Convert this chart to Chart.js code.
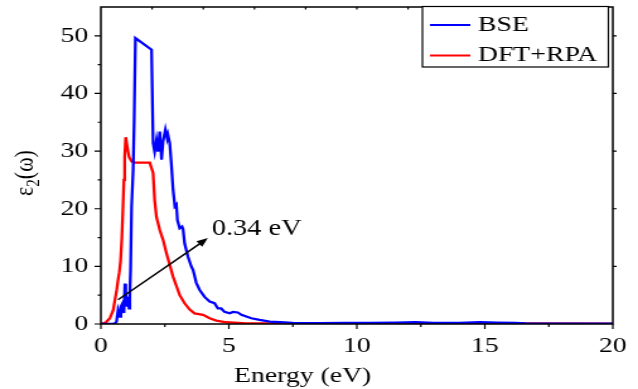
<!DOCTYPE html>
<html>
<head>
<meta charset="utf-8">
<script src="https://cdn.jsdelivr.net/npm/chart.js@4.4.1/dist/chart.umd.min.js"></script>
<style>
  html, body { margin: 0; padding: 0; background: #fff; overflow: hidden; }
  #wrap { width: 506px; height: 389px; transform: scaleX(1.2609); transform-origin: 0 0; }
</style>
</head>
<body>
<div id="wrap"><canvas id="eps" width="506" height="389"></canvas></div>
<script>
// BSE spectrum (energy in eV, eps2)
var bseEnergy = [0, 0.45, 0.55, 0.61, 0.67, 0.74, 0.78, 0.85, 0.9, 0.94, 0.97, 1.03, 1.07, 1.1, 1.13, 1.16, 1.2, 1.26, 1.3, 1.35,
  1.98, 2.04, 2.1, 2.17, 2.23, 2.3, 2.37, 2.43, 2.52, 2.59, 2.62, 2.69, 2.76, 2.82, 2.89, 2.95, 2.99, 3.08, 3.17, 3.21, 3.27,
  3.4, 3.54, 3.6, 3.73, 3.86, 4.05, 4.25, 4.44, 4.57, 4.7, 4.83, 5.03, 5.16, 5.35, 5.49, 5.68, 5.88, 6.2, 6.6, 7.0, 7.5,
  8.5, 9.5, 10.5, 11.5, 12.3, 13, 14, 14.8, 15.5, 16.2, 16.6, 17.5, 20];
var bseEps2 = [0, 0, 0.1, 0.4, 2.4, 1.3, 3.0, 3.6, 1.9, 7.0, 5.3, 3.0, 4.7, 2.7, 5.3, 9.4, 20.4, 26.7, 35, 49.6,
  47.6, 31.4, 29.9, 31.9, 29.9, 33.4, 28.5, 31.7, 33.7, 32.2, 32.8, 31.4, 27.3, 23.3, 20.4, 20.7, 18, 16.6, 16.9, 16.5, 14,
  11.7, 9.9, 9.4, 7.1, 5.9, 4.7, 3.9, 3.6, 2.7, 2.7, 2.1, 1.85, 2.1, 2.0, 1.6, 1.3, 1.0, 0.7, 0.4, 0.3, 0.2,
  0.15, 0.2, 0.2, 0.25, 0.3, 0.2, 0.2, 0.3, 0.25, 0.2, 0.1, 0.05, 0.05];

// DFT+RPA spectrum
var rpaEnergy = [0, 0.09, 0.2, 0.35, 0.48, 0.55, 0.62, 0.67, 0.72, 0.77, 0.82, 0.86, 0.9, 0.93, 0.97, 1.02, 1.1, 1.2, 1.3, 1.91, 2.04, 2.1,
  2.17, 2.3, 2.43, 2.56, 2.82, 3.08, 3.27, 3.47, 3.66, 3.99, 4.25, 4.51, 4.9, 5.68, 8, 12, 16, 20];
var rpaEps2 = [0, 0.1, 0.3, 1.0, 2.4, 4.2, 6.0, 7.6, 9.0, 11, 15, 20, 25, 29, 32.4, 31, 29, 28.2, 28, 28, 26.2, 21.5,
  18.6, 16.3, 14.6, 12.3, 8.2, 5.0, 3.6, 2.5, 1.85, 1.6, 1.0, 0.6, 0.3, 0.1, 0.1, 0.15, 0.1, 0.05];

var seriesNames = ['BSE', 'DFT+RPA'];
var seriesColors = ['#0000ff', '#ff0000'];
var xTitle = 'Energy (eV)';

// annotation: gap arrow
var gapLabel = '0.34 eV';
var arrowFrom = [0.67, 4.2];
var arrowTo = [4.18, 14.9];
var gapTextAt = [4.33, 15.5];

var FONT = '"Liberation Serif", "Times New Roman", serif';

function toPoints(xs, ys) {
  return xs.map(function(x, i) { return { x: x, y: ys[i] }; });
}

var decorPlugin = {
  id: 'decor',
  afterDraw: function(chart) {
    var ctx = chart.ctx;
    var a = chart.chartArea;
    var xs = chart.scales.x, ys = chart.scales.y;
    ctx.save();
    ctx.strokeStyle = '#000';
    ctx.fillStyle = '#000';

    // frame
    ctx.lineWidth = 1.5;
    ctx.strokeRect(a.left, a.top, a.right - a.left, a.bottom - a.top);

    // tick marks (major long, minor short)
    ctx.lineWidth = 1.2;
    ctx.beginPath();
    xs.ticks.forEach(function(t) {
      var px = xs.getPixelForValue(t.value);
      var len = (t.value % 5 === 0) ? 5 : 3;
      ctx.moveTo(px, a.bottom);
      ctx.lineTo(px, a.bottom + len);
    });
    ys.ticks.forEach(function(t) {
      if (t.value >= ys.max) return;
      var py = ys.getPixelForValue(t.value);
      var len = (t.value % 10 === 0) ? 5 : 2.5;
      ctx.moveTo(a.left, py);
      ctx.lineTo(a.left - len, py);
      if (t.value % 10 === 0 && t.value > 0) {
        ctx.moveTo(a.right, py);
        ctx.lineTo(a.right + 3, py);
      }
    });
    for (var e = 2; e < 20; e += 2) {
      var tx = xs.getPixelForValue(e);
      ctx.moveTo(tx, a.top);
      ctx.lineTo(tx, a.top + 2.5);
    }
    ctx.stroke();

    // x axis title (sits left of centre in the original)
    ctx.font = '22px ' + FONT;
    ctx.textAlign = 'left';
    ctx.textBaseline = 'alphabetic';
    ctx.fillText(xTitle, 185.5, 381.5);

    // y axis title with subscript
    ctx.save();
    ctx.translate(25.5, 173);
    ctx.rotate(-Math.PI / 2);
    var big = '22px ' + FONT, small = '15px ' + FONT;
    ctx.font = big;
    var w1 = ctx.measureText('\u03b5').width;
    var w3 = ctx.measureText('(\u03c9)').width;
    ctx.font = small;
    var w2 = ctx.measureText('2').width;
    var x0 = -(w1 + w2 + w3) / 2;
    ctx.font = big;
    ctx.fillText('\u03b5', x0, 0);
    ctx.font = small;
    ctx.fillText('2', x0 + w1, 5);
    ctx.font = big;
    ctx.fillText('(\u03c9)', x0 + w1 + w2, 0);
    ctx.restore();

    // legend box
    var lx = 335, ly = 6.5, lw = 147.5, lh = 60.5;
    ctx.lineWidth = 1.2;
    ctx.fillStyle = '#fff';
    ctx.fillRect(lx, ly, lw, lh);
    ctx.strokeRect(lx, ly, lw, lh);
    ctx.font = '22px ' + FONT;
    ctx.textBaseline = 'middle';
    ctx.textAlign = 'left';
    chart.data.datasets.forEach(function(ds, i) {
      var yy = [25, 55.5][i];
      ctx.strokeStyle = ds.borderColor;
      ctx.lineWidth = 2;
      ctx.beginPath();
      ctx.moveTo(341, yy);
      ctx.lineTo(373, yy);
      ctx.stroke();
      ctx.fillStyle = '#000';
      ctx.fillText(ds.label, 379, yy);
    });

    // arrow annotation
    var x1 = xs.getPixelForValue(arrowFrom[0]), y1 = ys.getPixelForValue(arrowFrom[1]);
    var x2 = xs.getPixelForValue(arrowTo[0]), y2 = ys.getPixelForValue(arrowTo[1]);
    var ang = Math.atan2(y2 - y1, x2 - x1);
    var hl = 9, hw = 3.5;
    ctx.strokeStyle = '#000';
    ctx.fillStyle = '#000';
    ctx.lineWidth = 1.5;
    ctx.beginPath();
    ctx.moveTo(x1, y1);
    ctx.lineTo(x2 - Math.cos(ang) * hl * 0.8, y2 - Math.sin(ang) * hl * 0.8);
    ctx.stroke();
    ctx.beginPath();
    ctx.moveTo(x2, y2);
    ctx.lineTo(x2 - Math.cos(ang) * hl + Math.sin(ang) * hw, y2 - Math.sin(ang) * hl - Math.cos(ang) * hw);
    ctx.lineTo(x2 - Math.cos(ang) * hl - Math.sin(ang) * hw, y2 - Math.sin(ang) * hl + Math.cos(ang) * hw);
    ctx.closePath();
    ctx.fill();
    ctx.font = '22.5px ' + FONT;
    ctx.textBaseline = 'alphabetic';
    ctx.fillText(gapLabel, xs.getPixelForValue(gapTextAt[0]), ys.getPixelForValue(gapTextAt[1]));

    ctx.restore();
  }
};

var ctx = document.getElementById('eps').getContext('2d');
var epsChart = new Chart(ctx, {
  type: 'line',
  data: {
    datasets: [{
      label: seriesNames[0],
      data: toPoints(bseEnergy, bseEps2),
      borderColor: seriesColors[0],
      borderWidth: 2.3,
      pointRadius: 0,
      tension: 0,
      fill: false
    }, {
      label: seriesNames[1],
      data: toPoints(rpaEnergy, rpaEps2),
      borderColor: seriesColors[1],
      borderWidth: 2.3,
      pointRadius: 0,
      tension: 0,
      fill: false
    }]
  },
  options: {
    responsive: false,
    animation: false,
    devicePixelRatio: 1,
    layout: { padding: { left: 0, right: 20, top: 7, bottom: 0 } },
    plugins: {
      legend: { display: false },
      tooltip: { enabled: false }
    },
    scales: {
      x: {
        type: 'linear',
        min: 0,
        max: 20,
        afterFit: function(s) { s.height = 65; s.paddingLeft = 0; s.paddingRight = 0; },
        grid: { display: false, drawTicks: false },
        border: { display: false },
        ticks: {
          stepSize: 2.5,
          autoSkip: false,
          maxRotation: 0,
          padding: 9,
          color: '#000',
          font: { family: FONT, size: 22 },
          callback: function(v) { return v % 5 === 0 ? v : ''; }
        }
      },
      y: {
        min: 0,
        max: 55,
        afterFit: function(s) { s.width = 80; s.paddingTop = 0; s.paddingBottom = 0; },
        grid: { display: false, drawTicks: false },
        border: { display: false },
        ticks: {
          stepSize: 5,
          autoSkip: false,
          padding: 10,
          color: '#000',
          font: { family: FONT, size: 22 },
          callback: function(v) { return v % 10 === 0 ? v : ''; }
        }
      }
    }
  },
  plugins: [decorPlugin]
});
</script>
</body>
</html>
